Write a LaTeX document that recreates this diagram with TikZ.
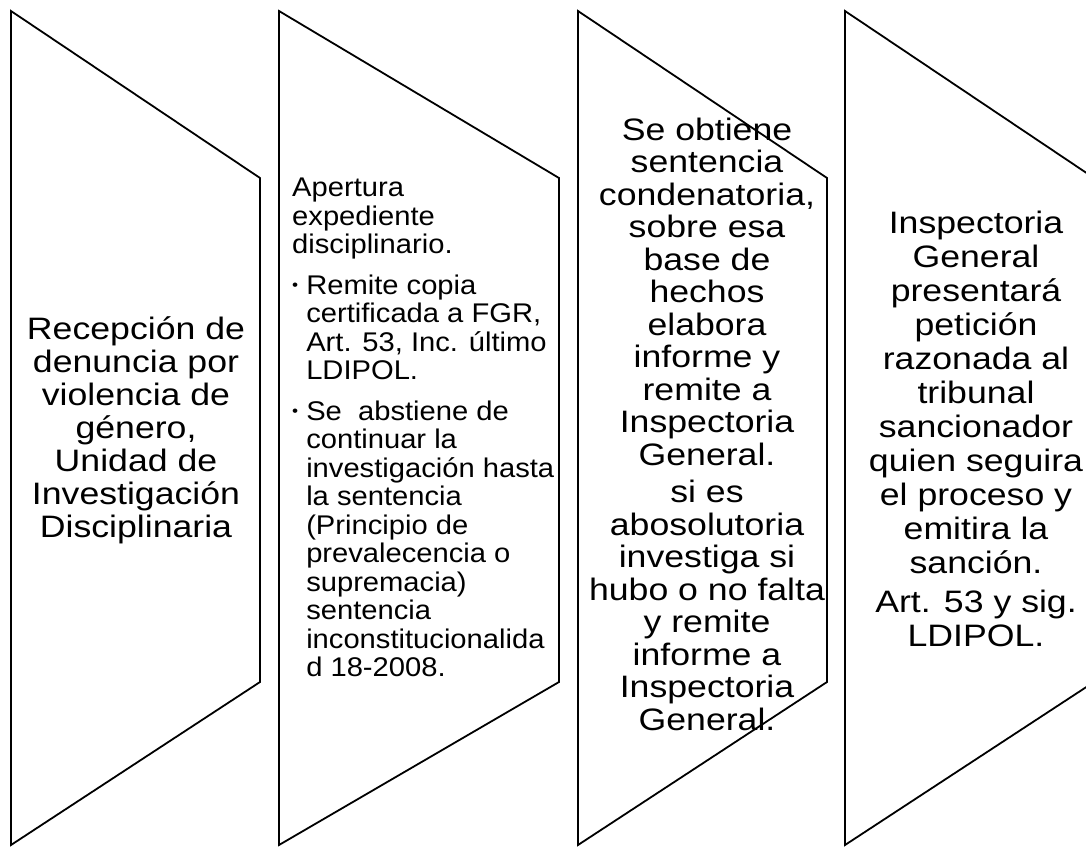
\documentclass[tikz,border=0pt]{standalone}
\usepackage{fontspec}
\setmainfont{Liberation Sans}
\tikzset{
  chev/.style={draw=black, line width=1.8pt, line join=miter},
  bigtxt/.style={align=center, font=\fontsize{31}{33}\selectfont, inner sep=0pt, xscale=1.15, transform shape},
  smalltxt/.style={align=left, font=\fontsize{27}{28.5}\selectfont, inner sep=0pt, xscale=1.08, transform shape},
}
\newcommand{\blt}{\makebox[13pt][l]{\fontsize{16}{16}\selectfont\raisebox{4pt}{•}}}
\newcommand{\ind}{\hspace*{13pt}}
\begin{document}
\begin{tikzpicture}[x=1pt,y=-1pt]
\useasboundingbox (0,0) rectangle (1086,846);
\clip (0,0) rectangle (1086,846);
% shapes
\draw[chev] (11,11) -- (260,178) -- (260,682) -- (11,845) -- cycle;
\draw[chev] (279,11) -- (559,178) -- (559,682) -- (279,845) -- cycle;
\draw[chev] (578,11) -- (827,178) -- (827,682) -- (578,845) -- cycle;
\draw[chev] (845,11) -- (1094,178) -- (1094,682) -- (845,845) -- cycle;
% texts
\node[bigtxt] (t1) at (136,430) {Recepción de\\denuncia por\\violencia de\\género,\\Unidad de\\Investigación\\Disciplinaria};
\node[smalltxt, anchor=north west] (t2) at (292,178) {Apertura\\expediente\\disciplinario.\\[12pt]
\blt Remite copia\\
\ind certificada a FGR,\\
\ind Art. 53, Inc. último\\
\ind LDIPOL.\\[12pt]
\blt Se\ \ abstiene de\\
\ind continuar la\\
\ind investigación hasta\\
\ind la sentencia\\
\ind (Principio de\\
\ind prevalecencia o\\
\ind supremacia)\\
\ind sentencia\\
\ind inconstitucionalida\\
\ind d 18-2008.};
\node[bigtxt, font=\fontsize{31}{32.5}\selectfont] (t3) at (707,424) {Se obtiene\\sentencia\\condenatoria,\\sobre esa\\base de\\hechos\\elabora\\informe y\\remite a\\Inspectoria\\General.\\[5pt]si es\\abosolutoria\\investiga si\\hubo o no falta\\y remite\\informe a\\Inspectoria\\General.};
\node[bigtxt, font=\fontsize{31}{34}\selectfont] (t4) at (976,429) {Inspectoria\\General\\presentará\\petición\\razonada al\\tribunal\\sancionador\\quien seguira\\el proceso y\\emitira la\\sanción.\\[5pt]Art. 53 y sig.\\LDIPOL.};
\end{tikzpicture}
\end{document}
